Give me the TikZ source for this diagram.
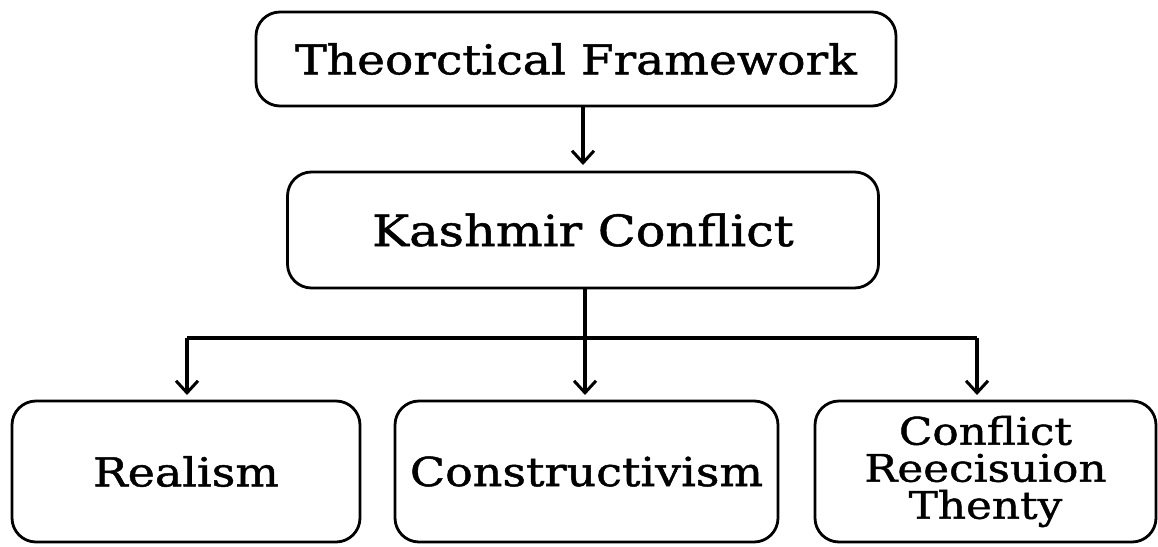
\documentclass[tikz,border=0pt]{standalone}
\usepackage{fontspec}
\setmainfont[FakeStretch=1.15,FakeBold=1.2]{DejaVu Serif}
\usetikzlibrary{arrows.meta}
\begin{document}
\begin{tikzpicture}[x=1pt,y=-1pt,
  box/.style={draw=black, line width=2.8pt, rounded corners=24pt, fill=white, align=center, inner sep=0pt},
  conn/.style={line width=3.2pt, draw=black},
  arr/.style={conn, -{Straight Barb[length=12pt,width=22pt,line width=3pt]}}]
\useasboundingbox[fill=white] (0,0) rectangle (1158,546);
\node[box, minimum width=640pt, minimum height=94pt, font=\fontsize{41}{44}\selectfont] (tf) at (576,59) {Theorctical Framework};
\node[box, minimum width=591pt, minimum height=116pt, font=\fontsize{43}{44}\selectfont] (kc) at (583,230) {Kashmir Conflict};
\node[box, minimum width=348pt, minimum height=141pt, font=\fontsize{40}{44}\selectfont] (re) at (186,471.5) {Realism};
\node[box, minimum width=383pt, minimum height=141pt, font=\fontsize{40}{44}\selectfont] (co) at (586.5,471.5) {Constructivism};
\node[box, minimum width=341pt, minimum height=141pt, font=\fontsize{38}{37}\selectfont] (cr) at (985.5,471.5) {Conflict\\Reecisuion\\Thenty};
\coordinate (t0) at (583,106);
\coordinate (t1) at (583,165);
\draw[arr] (t0) -- (t1);
\coordinate (k0) at (585,288);
\coordinate (j) at (585,338);
\coordinate (jl) at (187,338);
\coordinate (jr) at (977,338);
\coordinate (bl) at (187,395);
\coordinate (bm) at (585,395);
\coordinate (br) at (977,395);
\draw[conn] (k0) -- (j);
\draw[conn] (jl) -- (jr);
\draw[arr] (jl) -- (bl);
\draw[arr] (j) -- (bm);
\draw[arr] (jr) -- (br);
\end{tikzpicture}
\end{document}
